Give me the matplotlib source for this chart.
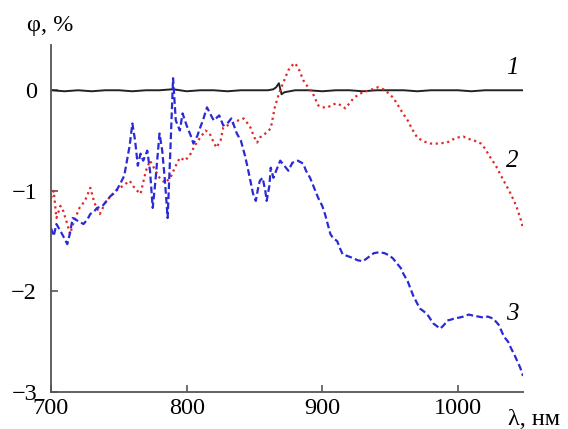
import matplotlib
matplotlib.use("Agg")
import matplotlib.pyplot as plt

plt.rcParams['font.family'] = ['Liberation Serif', 'DejaVu Serif']
plt.rcParams['axes.unicode_minus'] = True

# Curve 1 (black, reference)
wl1 = [700, 710, 720, 730, 740, 750, 760, 770, 780, 790, 800, 810, 820, 830, 840,
       850, 860, 864, 866, 868, 870, 872, 876, 880, 890, 900, 910, 920, 930, 940,
       950, 960, 970, 980, 990, 1000, 1010, 1020, 1030, 1040, 1048]
phi1 = [0.0, -0.01, 0.0, -0.01, 0.0, 0.0, -0.01, 0.0, 0.0, 0.01, -0.01, 0.0, 0.0,
        -0.01, 0.0, 0.0, 0.0, 0.01, 0.03, 0.07, -0.04, -0.02, -0.01, 0.0, 0.0,
        -0.01, 0.0, 0.0, -0.01, 0.0, 0.0, 0.0, -0.01, 0.0, 0.0, 0.0, -0.01, 0.0,
        0.0, 0.0, 0.0]

# Curve 2 (red, dotted)
wl2 = [700, 702, 704, 707, 709, 712, 714, 717, 721, 725, 729, 732, 736, 740, 744,
       748, 751, 755, 758, 762, 766, 770, 773, 777, 780, 784, 788, 792, 795, 799,
       803, 806, 810, 814, 817, 820, 822, 825, 827, 830, 834, 838, 842, 845, 847,
       850, 852, 854, 858, 862, 865, 867, 869, 872, 875, 878, 880, 883, 886, 890,
       893, 897, 900, 904, 908, 911, 915, 917, 920, 923, 927, 930, 935, 941, 945,
       948, 952, 955, 959, 963, 966, 970, 975, 980, 985, 992, 996, 1000, 1004,
       1007, 1012, 1017, 1020, 1024, 1028, 1031, 1035, 1039, 1043, 1046, 1048]
phi2 = [-1.07, -1.0, -1.27, -1.15, -1.2, -1.33, -1.43, -1.3, -1.17, -1.1, -0.97,
        -1.12, -1.23, -1.12, -1.05, -1.0, -0.97, -0.93, -0.9, -0.98, -1.03, -0.8,
        -0.7, -0.8, -0.87, -0.92, -0.87, -0.75, -0.67, -0.7, -0.63, -0.55, -0.47,
        -0.4, -0.43, -0.52, -0.57, -0.5, -0.37, -0.35, -0.33, -0.3, -0.28, -0.33,
        -0.37, -0.47, -0.52, -0.47, -0.43, -0.38, -0.17, -0.08, 0.0, 0.1, 0.2,
        0.25, 0.27, 0.2, 0.1, 0.02, -0.03, -0.15, -0.17, -0.17, -0.14, -0.13,
        -0.16, -0.18, -0.13, -0.08, -0.04, -0.02, 0.0, 0.03, 0.01, -0.02, -0.07,
        -0.13, -0.22, -0.3, -0.38, -0.47, -0.51, -0.53, -0.53, -0.52, -0.49,
        -0.47, -0.46, -0.48, -0.5, -0.53, -0.58, -0.67, -0.75, -0.83, -0.93,
        -1.03, -1.15, -1.27, -1.37]

# Curve 3 (blue, dashed)
wl3 = [700, 702, 704, 707, 709, 712, 714, 716, 720, 724, 727, 729, 732, 734, 738,
       741, 744, 746, 749, 751, 754, 756, 758, 760, 762, 764, 766, 768, 771, 773,
       775, 777, 780, 782, 784, 786, 788, 790, 792, 795, 797, 800, 803, 805, 808,
       810, 812, 815, 818, 820, 824, 827, 830, 833, 837, 840, 843, 845, 847, 849,
       851, 853, 854, 856, 858, 859, 861, 862, 864, 866, 869, 872, 875, 878, 882,
       886, 888, 891, 894, 897, 900, 902, 904, 906, 908, 911, 913, 915, 919, 923,
       926, 930, 934, 938, 942, 946, 949, 952, 955, 958, 960, 963, 965, 967, 970,
       972, 975, 978, 980, 982, 985, 987, 990, 992, 995, 997, 1001, 1004, 1008,
       1011, 1015, 1019, 1022, 1026, 1030, 1034, 1037, 1039, 1042, 1044, 1046, 1048]
phi3 = [-1.37, -1.45, -1.33, -1.4, -1.45, -1.53, -1.42, -1.27, -1.3, -1.33, -1.28,
        -1.23, -1.2, -1.17, -1.15, -1.1, -1.05, -1.03, -0.98, -0.93, -0.85, -0.7,
        -0.55, -0.33, -0.5, -0.75, -0.63, -0.7, -0.6, -0.8, -1.17, -0.9, -0.43,
        -0.6, -0.9, -1.27, -0.6, 0.12, -0.3, -0.4, -0.23, -0.35, -0.45, -0.53,
        -0.45, -0.37, -0.3, -0.17, -0.25, -0.3, -0.25, -0.35, -0.33, -0.28, -0.43,
        -0.5, -0.65, -0.77, -0.9, -1.03, -1.1, -0.95, -0.9, -0.87, -1.0, -1.1,
        -0.95, -0.77, -0.87, -0.8, -0.7, -0.75, -0.8, -0.72, -0.7, -0.73, -0.8,
        -0.87, -0.97, -1.07, -1.15, -1.23, -1.33, -1.43, -1.47, -1.5, -1.57,
        -1.63, -1.65, -1.67, -1.69, -1.7, -1.66, -1.62, -1.61, -1.62, -1.64,
        -1.67, -1.72, -1.77, -1.83, -1.9, -1.97, -2.04, -2.12, -2.17, -2.2,
        -2.24, -2.28, -2.32, -2.35, -2.37, -2.33, -2.29, -2.28, -2.27, -2.26,
        -2.25, -2.23, -2.24, -2.25, -2.26, -2.25, -2.27, -2.33, -2.45, -2.5,
        -2.56, -2.64, -2.7, -2.76, -2.84]

xticks = [700, 800, 900, 1000]
yticks = [0, -1, -2, -3]
ytick_labels = ['0', '−1', '−2', '−3']
curve_labels = ["1", "2", "3"]
curve_label_pos = [(1040, 0.22), (1040, -0.70), (1040, -2.22)]

fig = plt.figure(figsize=(5.68, 4.29), dpi=100)
ax = fig.add_axes([51/568, 1 - 392/429, (523 - 51)/568, (392 - 45)/429])

ax.plot(wl1, phi1, color='#222222', lw=1.4, ls='-')
ax.plot(wl2, phi2, color='#e02828', lw=1.6, ls=(0, (1, 1.6)))
ax.plot(wl3, phi3, color='#2a2ad8', lw=1.6, ls=(0, (3, 1.5)))

ax.set_xlim(700, 1048)
ax.set_ylim(-3, 0.45)
ax.set_xticks(xticks)
ax.set_yticks(yticks)
ax.set_xticklabels([str(t) for t in xticks])
ax.set_yticklabels(ytick_labels)

for s in ['top', 'right']:
    ax.spines[s].set_visible(False)
for s in ['left', 'bottom']:
    ax.spines[s].set_color('#555555')
    ax.spines[s].set_linewidth(1.3)

ax.tick_params(axis='x', direction='in', length=5, width=1.2, color='#555555',
               labelsize=17.5, pad=4)
ax.tick_params(axis='y', direction='in', length=5, width=1.2, color='#555555',
               labelsize=17.5, pad=10)

for lab, (x, y) in zip(curve_labels, curve_label_pos):
    ax.text(x, y, lab, fontsize=18, style='italic', ha='center', va='center')

fig.text(50/568, 1 - 25/429, 'φ, %', fontsize=17.5, ha='center', va='center')
fig.text(508/568, 1 - 425/429, 'λ, нм', fontsize=17.5, ha='left', va='baseline')

fig.savefig('out.png', dpi=100)
